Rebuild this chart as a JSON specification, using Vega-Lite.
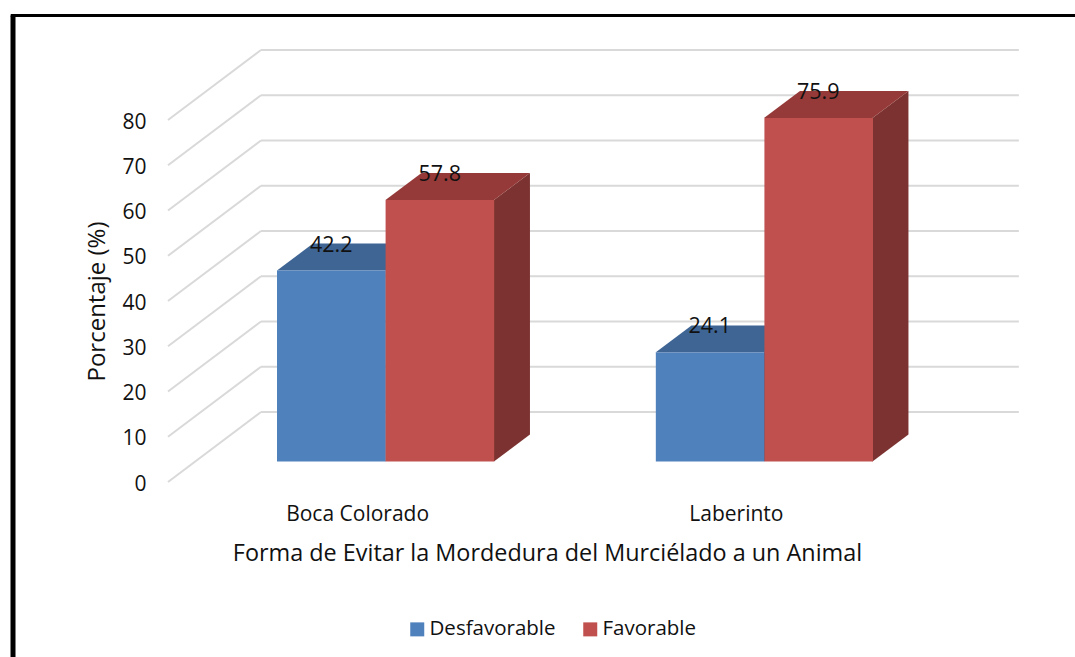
{
"$schema":"https://vega.github.io/schema/vega-lite/v6.json",
"width":757,"height":362,
"autosize":{"type":"none"},
"padding":{"left":168,"top":120,"right":150,"bottom":175},
"background":"white",
"config":{"view":{"stroke":null},"font":"Open Sans"},
"datasets":{
"barras":[
{"Lugar":"Boca Colorado","Grupo":0,"Serie":"Desfavorable","Orden":0,"Porcentaje":42.2},
{"Lugar":"Boca Colorado","Grupo":0,"Serie":"Favorable","Orden":1,"Porcentaje":57.8},
{"Lugar":"Laberinto","Grupo":1,"Serie":"Desfavorable","Orden":0,"Porcentaje":24.1},
{"Lugar":"Laberinto","Grupo":1,"Serie":"Favorable","Orden":1,"Porcentaje":75.9}
],
"niveles":[{"Nivel":0},{"Nivel":10},{"Nivel":20},{"Nivel":30},{"Nivel":40},{"Nivel":50},{"Nivel":60},{"Nivel":70},{"Nivel":80}]
},
"resolve":{"scale":{"x":"independent"},"axis":{"x":"independent","y":"independent"}},
"layer":[
{"data":{"name":"niveles"},
 "transform":[{"calculate":"datum.Nivel+15.47","as":"Fondo"}],
 "mark":{"type":"rule","color":"#d9d9d9","strokeWidth":2},
 "encoding":{
  "x":{"datum":0,"type":"quantitative","scale":{"domain":[0,2]},"axis":null},
  "x2":{"datum":0.2457},
  "y":{"field":"Nivel","type":"quantitative","scale":{"domain":[0,80],"nice":false},"axis":null},
  "y2":{"field":"Fondo"}}},
{"data":{"name":"niveles"},
 "transform":[{"calculate":"datum.Nivel+15.47","as":"Fondo"}],
 "mark":{"type":"rule","color":"#d9d9d9","strokeWidth":2},
 "encoding":{
  "x":{"datum":0.2457,"type":"quantitative","scale":{"domain":[0,2]},"axis":null},
  "x2":{"datum":2.248},
  "y":{"field":"Fondo","type":"quantitative","axis":null}}},
{"data":{"name":"barras"},
 "transform":[
  {"calculate":"datum.Grupo+0.288+datum.Orden*0.2866","as":"izq"},
  {"calculate":"[0,1]","as":"t"},{"flatten":["t"]},
  {"calculate":"datum.izq+0.2866+datum.t*0.0951","as":"xl"},
  {"calculate":"datum.t*5.97","as":"y0"},
  {"calculate":"datum.Porcentaje+datum.t*5.97","as":"y1"}],
 "mark":{"type":"area","orient":"vertical","yOffset":-20.5,"y2Offset":-20.5},
 "encoding":{
  "x":{"field":"xl","type":"quantitative","scale":{"domain":[0,2]},"axis":null},
  "y":{"field":"y1","type":"quantitative","axis":null,"stack":null},
  "y2":{"field":"y0"},
  "detail":[{"field":"Lugar"},{"field":"Serie"}],
  "color":{"condition":{"test":"datum.Serie==='Favorable'","value":"#7b3230"},"value":"#2f4f78"}}},
{"data":{"name":"barras"},
 "transform":[
  {"calculate":"datum.Grupo+0.288+datum.Orden*0.2866","as":"izq"},
  {"calculate":"[0,1]","as":"t"},{"flatten":["t"]},
  {"calculate":"datum.izq+datum.t*0.0951","as":"xa"},
  {"calculate":"datum.izq+0.2866+datum.t*0.0951","as":"xb"},
  {"calculate":"datum.Porcentaje+datum.t*5.97","as":"yt"}],
 "mark":{"type":"area","orient":"horizontal","yOffset":-20.5},
 "encoding":{
  "x":{"field":"xa","type":"quantitative","scale":{"domain":[0,2]},"axis":null,"stack":null},
  "x2":{"field":"xb"},
  "y":{"field":"yt","type":"quantitative","axis":null},
  "detail":[{"field":"Lugar"},{"field":"Serie"}],
  "color":{"condition":{"test":"datum.Serie==='Favorable'","value":"#953a38"},"value":"#3f6595"}}},
{"data":{"name":"barras"},
 "mark":{"type":"bar","yOffset":-20.5,"y2Offset":-20.5,"stroke":null},
 "encoding":{
  "x":{"field":"Lugar","type":"nominal","sort":null,
   "scale":{"range":[109,705],"paddingInner":0.4267,"paddingOuter":0},
   "axis":{"title":"Forma de Evitar la Mordedura del Murciélado a un Animal","orient":"bottom","labelAngle":0,"domain":false,"ticks":false,"labelPadding":21,"labelOffset":-28,"labelFontSize":21,"labelColor":"#111","labelFont":"Open Sans","titleX":379,"titleFont":"Open Sans","titleFontSize":23.4,"titleFontWeight":"normal","titleColor":"#111","titlePadding":18}},
  "xOffset":{"field":"Serie","type":"nominal","sort":null},
  "y":{"field":"Porcentaje","type":"quantitative",
   "axis":{"title":"Porcentaje (%)","values":[0,10,20,30,40,50,60,70,80],"grid":false,"domain":false,"ticks":false,"labelPadding":22,"labelOffset":2,"labelFontSize":21,"labelColor":"#111","labelFont":"Open Sans","titleFont":"Open Sans","titleFontSize":24,"titleFontWeight":"normal","titleColor":"#111","titlePadding":12}},
  "color":{"field":"Serie","type":"nominal",
   "scale":{"domain":["Desfavorable","Favorable"],"range":["#4f81bd","#c0504d"]},
   "legend":{"title":null,"orient":"none","legendX":239,"legendY":499,"direction":"horizontal","symbolType":"square","symbolSize":196,"symbolStrokeWidth":0,"labelFontSize":20.5,"labelFont":"Open Sans","labelColor":"#111","labelOffset":2,"columnPadding":24}}}},
{"data":{"name":"barras"},
 "transform":[{"calculate":"datum.Grupo+0.288+datum.Orden*0.2866+0.1433","as":"xc"}],
 "mark":{"type":"text","fontSize":21.5,"font":"Open Sans","color":"#111","baseline":"middle","align":"center","yOffset":-45.5},
 "encoding":{
  "x":{"field":"xc","type":"quantitative","scale":{"domain":[0,2]},"axis":null},
  "y":{"field":"Porcentaje","type":"quantitative","axis":null},
  "text":{"field":"Porcentaje","type":"quantitative","format":".1f"}}},
{"data":{"values":[{"marco":"izquierda"}]},
 "mark":{"type":"rule","color":"black","strokeWidth":5},
 "encoding":{
  "x":{"datum":-0.4095,"type":"quantitative","scale":{"domain":[0,2]},"axis":null},
  "y":{"datum":103.1,"type":"quantitative","axis":null},
  "y2":{"datum":-38.7}}},
{"data":{"values":[{"marco":"arriba"}]},
 "mark":{"type":"rule","color":"black","strokeWidth":3},
 "encoding":{
  "x":{"datum":-0.4155,"type":"quantitative","scale":{"domain":[0,2]},"axis":null},
  "x2":{"datum":2.4},
  "y":{"datum":103.1,"type":"quantitative","axis":null}}}
]
}
